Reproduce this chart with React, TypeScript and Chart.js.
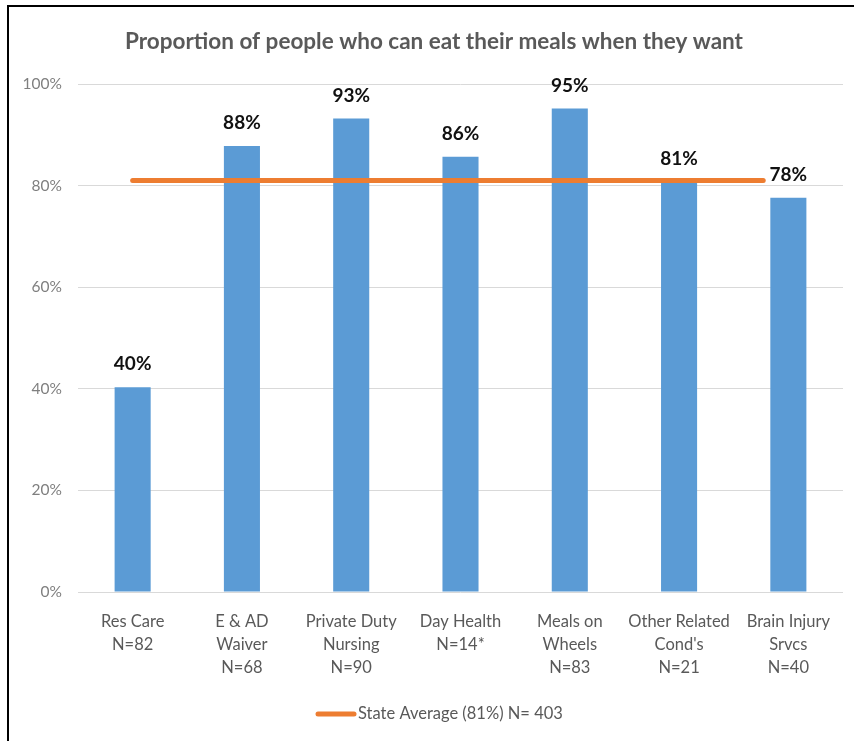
import React, { useEffect, useRef } from "react";
import { Chart, registerables } from "chart.js";

Chart.register(...registerables);

const categories: string[][] = [
  ["Res Care", "N=82"],
  ["E & AD", "Waiver", "N=68"],
  ["Private Duty", "Nursing", "N=90"],
  ["Day Health", "N=14*"],
  ["Meals on", "Wheels", "N=83"],
  ["Other Related", "Cond's", "N=21"],
  ["Brain Injury", "Srvcs", "N=40"],
];
const proportions: number[] = [40.3, 87.8, 93.2, 85.7, 95.2, 80.7, 77.6];
const stateAverage = 81;
const stateAverageLabel = "State Average (81%) N= 403";
const stateAverageExtent: number[] = [0, 5.77];
const yTicks: number[] = [0, 20, 40, 60, 80, 100];
const titleText = "Proportion of people who can eat their meals when they want";

const FONT = "Lato, 'Open Sans', sans-serif";

export default function App() {
  const ref = useRef<HTMLCanvasElement | null>(null);
  useEffect(() => {
    if (!ref.current) return;
    const titlePlugin = {
      id: "customTitle",
      afterDraw(chart: any) {
        const ctx = chart.ctx;
        ctx.save();
        ctx.font = `bold 22.5px ${FONT}`;
        ctx.fillStyle = "#595959";
        ctx.textAlign = "center";
        ctx.textBaseline = "middle";
        ctx.fillText(titleText, 434, 42);
        ctx.restore();
      },
    };
    const legendPlugin = {
      id: "customLegend",
      afterDraw(chart: any) {
        const ds = chart.data.datasets[1];
        const ctx = chart.ctx;
        const y = 714;
        ctx.save();
        ctx.strokeStyle = ds.borderColor;
        ctx.lineWidth = 5;
        ctx.lineCap = "round";
        ctx.beginPath();
        ctx.moveTo(318, y);
        ctx.lineTo(354, y);
        ctx.stroke();
        ctx.font = `16.5px ${FONT}`;
        ctx.fillStyle = "#595959";
        ctx.textAlign = "left";
        ctx.textBaseline = "middle";
        ctx.fillText(ds.label, 358, y);
        ctx.restore();
      },
    };
    const labelPlugin = {
      id: "barLabels",
      afterDatasetsDraw(chart: any) {
        const ctx = chart.ctx;
        const meta = chart.getDatasetMeta(0);
        ctx.save();
        ctx.font = `bold 19px ${FONT}`;
        ctx.fillStyle = "#111111";
        ctx.textAlign = "center";
        ctx.textBaseline = "middle";
        meta.data.forEach((el: any, i: number) => {
          ctx.fillText(Math.round(proportions[i]) + "%", el.x, el.y - 23);
        });
        ctx.restore();
      },
    };
    const chart = new Chart(ref.current, {
      type: "bar",
      data: {
        labels: categories,
        datasets: [
          {
            type: "bar",
            label: "Proportion",
            data: proportions,
            backgroundColor: "#5b9bd5",
            barPercentage: 0.33,
            categoryPercentage: 1,
            grouped: false,
            order: 1,
            xAxisID: "x",
          } as any,
          {
            type: "line",
            label: stateAverageLabel,
            data: stateAverageExtent.map((x) => ({ x, y: stateAverage })),
            borderColor: "#ed7d31",
            backgroundColor: "#ed7d31",
            borderWidth: 5,
            borderCapStyle: "round",
            pointRadius: 0,
            order: 0,
            xAxisID: "xl",
          } as any,
        ],
      },
      options: {
        responsive: false,
        animation: false,
        layout: { padding: { top: 84, right: 11, bottom: 45, left: 0 } },
        scales: {
          x: {
            type: "category",
            offset: true,
            grid: { display: false, drawTicks: false },
            border: { display: false },
            ticks: {
              padding: 18,
              color: "#595959",
              font: { family: FONT, size: 16.5, lineHeight: 1.4 },
              maxRotation: 0,
              autoSkip: false,
            },
            afterFit(scale: any) {
              scale.height = 104;
            },
          },
          xl: {
            type: "linear",
            display: false,
            offset: false,
            min: -0.5,
            max: categories.length - 0.5,
            grid: { offset: false },
          },
          y: {
            min: 0,
            max: 100,
            border: { display: false },
            grid: { color: "#d9d9d9", lineWidth: 1, drawTicks: false },
            afterBuildTicks(scale: any) {
              scale.ticks = yTicks.map((v) => ({ value: v }));
            },
            ticks: {
              padding: 16,
              color: "#7f7f7f",
              font: { family: FONT, size: 15.5 },
              callback: (v: any) => v + "%",
            },
            afterFit(scale: any) {
              scale.width = 78;
            },
          },
        },
        plugins: {
          title: { display: false },
          tooltip: { enabled: false },
          legend: { display: false },
        },
      } as any,
      plugins: [titlePlugin, labelPlugin, legendPlugin],
    });
    return () => chart.destroy();
  }, []);
  return (
    <div style={{ position: "fixed", left: 0, top: 0, width: 854, height: 741, background: "#fff" }}>
      <canvas ref={ref} width={854} height={741} style={{ position: "absolute", left: 0, top: 0 }} />
      <div
        style={{
          position: "absolute",
          left: 7,
          top: 5,
          right: 0,
          bottom: 0,
          borderLeft: "2px solid #000",
          borderTop: "2px solid #000",
          pointerEvents: "none",
        }}
      />
    </div>
  );
}
